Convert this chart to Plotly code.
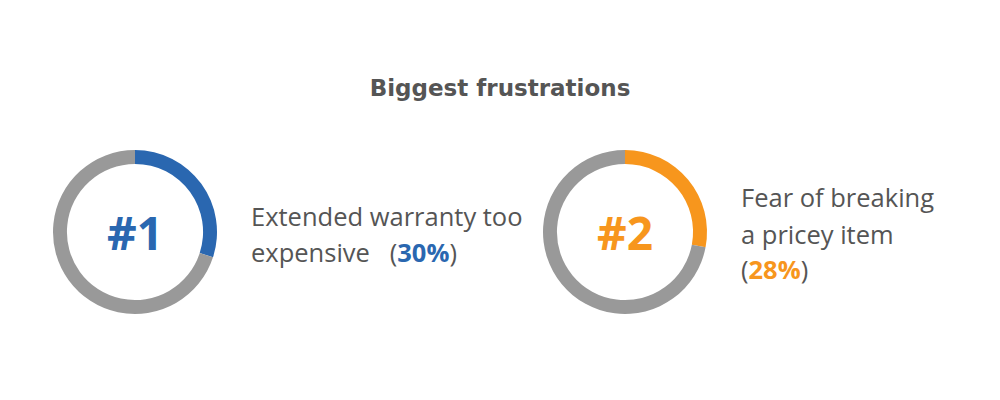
import plotly.graph_objects as go

# data
ranks = ["#1", "#2"]
shares = [30, 28]
label_lines = [
    ["Extended warranty too", "expensive\u00a0\u00a0 ("],
    ["Fear of breaking", "a pricey item", "("],
]
colors = ["#2a67b0", "#f7961d"]
rest_color = "#999999"
text_color = "#555555"

fig = go.Figure()

# the page body adds an 8px margin, so everything is nudged up/left a bit
x_domains = [[0.045, 0.209], [0.535, 0.699]]
for i, share in enumerate(shares):
    fig.add_trace(go.Pie(
        values=[share, 100 - share],
        marker=dict(colors=[colors[i], rest_color], line=dict(width=0)),
        hole=0.83, sort=False, direction="clockwise", rotation=0,
        textinfo="none", hoverinfo="skip", showlegend=False,
        domain=dict(x=x_domains[i], y=[0.235, 0.645]),
    ))
    cx = sum(x_domains[i]) / 2
    fig.add_annotation(x=cx, y=0.44, xref="paper", yref="paper",
                       text=f"<b>{ranks[i]}</b>", showarrow=False,
                       xanchor="center", yanchor="middle",
                       font=dict(family="Open Sans", size=46, color=colors[i]))

# text labels, one annotation per line
label_x = [0.241, 0.731]
label_y = [[0.480, 0.390], [0.527, 0.434, 0.348]]
for i, lines in enumerate(label_lines):
    for j, line in enumerate(lines):
        txt = line
        if j == len(lines) - 1:
            txt = line + f"<b><span style='color:{colors[i]}'>{shares[i]}%</span></b>)"
        fig.add_annotation(x=label_x[i], y=label_y[i][j], xref="paper", yref="paper",
                           text=txt, showarrow=False, xanchor="left", yanchor="middle",
                           font=dict(family="Open Sans", size=25.5, color=text_color))

fig.update_layout(
    width=1000, height=400,
    margin=dict(l=0, r=0, t=0, b=0),
    paper_bgcolor="white", plot_bgcolor="white",
    title=dict(text="<b>Biggest frustrations</b>", x=0.492, xanchor="center",
               y=0.80, yanchor="middle",
               font=dict(family="DejaVu Sans", size=23, color=text_color)),
)

fig.write_html("out.html")
